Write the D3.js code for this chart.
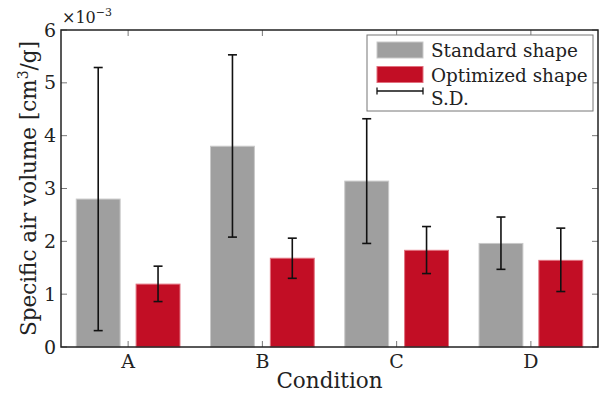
<!DOCTYPE html>
<html>
<head>
<meta charset="utf-8">
<script src="https://cdn.jsdelivr.net/npm/d3@7"></script>
<style>
  body { margin: 0; background: #fff; }
  text { font-family: "DejaVu Serif", serif; fill: #222; }
</style>
</head>
<body>
<div id="chart"></div>
<script>
// data (values in 1e-3 cm^3/g)
const categories = ["A", "B", "C", "D"];
const seriesNames = ["Standard shape", "Optimized shape"];
const standardMean = [2.80, 3.80, 3.14, 1.96];
const standardLow = [0.31, 2.08, 1.96, 1.47];
const standardHigh = [5.29, 5.53, 4.32, 2.46];
const optimizedMean = [1.19, 1.68, 1.83, 1.64];
const optimizedLow = [0.86, 1.30, 1.39, 1.05];
const optimizedHigh = [1.53, 2.06, 2.28, 2.25];
const yTicks = [0, 1, 2, 3, 4, 5, 6];

const width = 599, height = 396;
const margin = { top: 30, right: 1, bottom: 49, left: 61 };
const colors = ["#9f9f9f", "#c20e25"];
const edges = ["#c9c9c9", "#e2707e"];

const svg = d3.select("#chart")
  .append("svg")
  .attr("width", width)
  .attr("height", height);

// scales
let xScale = d3.scaleBand()
  .domain(categories)
  .range([margin.left, width - margin.right])
  .paddingInner(0.22)
  .paddingOuter(0.11);

let xSub = d3.scaleBand()
  .domain(seriesNames)
  .range([0, xScale.bandwidth()])
  .paddingInner(0.25);

let yScale = d3.scaleLinear()
  .domain([0, 6])
  .range([height - margin.bottom, margin.top]);

const rows = [];
categories.forEach((c, i) => {
  rows.push({ cat: c, s: 0, mean: standardMean[i], lo: standardLow[i], hi: standardHigh[i] });
  rows.push({ cat: c, s: 1, mean: optimizedMean[i], lo: optimizedLow[i], hi: optimizedHigh[i] });
});

// bars
svg.append("g")
  .selectAll("rect")
  .data(rows)
  .enter()
  .append("rect")
  .attr("x", d => xScale(d.cat) + xSub(seriesNames[d.s]) + 0.5)
  .attr("y", d => yScale(d.mean))
  .attr("width", xSub.bandwidth() - 1)
  .attr("height", d => yScale(0) - yScale(d.mean))
  .style("fill", d => colors[d.s])
  .style("stroke", d => edges[d.s])
  .style("stroke-width", 1);

// error bars
let cx = d => xScale(d.cat) + xSub(seriesNames[d.s]) + xSub.bandwidth() / 2;
let err = svg.append("g")
  .style("stroke", "#111")
  .style("stroke-width", 1.6);

err.selectAll(".stem")
  .data(rows)
  .enter()
  .append("line")
  .attr("x1", cx).attr("x2", cx)
  .attr("y1", d => yScale(d.lo))
  .attr("y2", d => yScale(d.hi));

["lo", "hi"].forEach(k => {
  err.selectAll(".cap-" + k)
    .data(rows)
    .enter()
    .append("line")
    .attr("x1", d => cx(d) - 4.5)
    .attr("x2", d => cx(d) + 4.5)
    .attr("y1", d => yScale(d[k]))
    .attr("y2", d => yScale(d[k]));
});

// ticks (inside, mirrored)
let x0 = margin.left, x1 = width - margin.right;
let y0 = yScale(0), y1 = yScale(6);
let tickG = svg.append("g")
  .style("stroke", "#555")
  .style("stroke-width", 0.8);

yTicks.forEach(t => {
  tickG.append("line").attr("x1", x0).attr("x2", x0 + 6).attr("y1", yScale(t)).attr("y2", yScale(t));
  tickG.append("line").attr("x1", x1 - 6).attr("x2", x1).attr("y1", yScale(t)).attr("y2", yScale(t));
});
categories.forEach(c => {
  let x = xScale(c) + xScale.bandwidth() / 2;
  tickG.append("line").attr("x1", x).attr("x2", x).attr("y1", y0).attr("y2", y0 - 6);
  tickG.append("line").attr("x1", x).attr("x2", x).attr("y1", y1).attr("y2", y1 + 6);
});

// frame
svg.append("rect")
  .attr("x", x0)
  .attr("y", y1)
  .attr("width", x1 - x0)
  .attr("height", y0 - y1)
  .style("fill", "none")
  .style("stroke", "#222")
  .style("stroke-width", 1.5);

// tick labels
svg.append("g")
  .selectAll("text")
  .data(yTicks)
  .enter()
  .append("text")
  .attr("x", x0 - 5)
  .attr("y", d => yScale(d) + 6.5)
  .attr("text-anchor", "end")
  .style("font-size", "19px")
  .text(d => d);

svg.append("g")
  .selectAll("text")
  .data(categories)
  .enter()
  .append("text")
  .attr("x", d => xScale(d) + xScale.bandwidth() / 2)
  .attr("y", y0 + 21)
  .attr("text-anchor", "middle")
  .style("font-size", "19px")
  .text(d => d);

// exponent
let expo = svg.append("text")
  .attr("x", 62)
  .attr("y", 23)
  .style("font-size", "16px");
expo.append("tspan").text("×10");
expo.append("tspan").attr("dy", -7).style("font-size", "11px").text("−3");

// axis labels
svg.append("text")
  .attr("x", (x0 + x1) / 2)
  .attr("y", 388)
  .attr("text-anchor", "middle")
  .style("font-size", "21.5px")
  .text("Condition");

let yl = svg.append("text")
  .attr("transform", "translate(36," + ((y0 + y1) / 2) + ") rotate(-90)")
  .attr("text-anchor", "middle")
  .style("font-size", "21.5px");
yl.append("tspan").text("Specific air volume [cm");
yl.append("tspan").attr("dy", -8).style("font-size", "14px").text("3");
yl.append("tspan").attr("dy", 8).text("/g]");

// legend
let lg = svg.append("g");
lg.append("rect")
  .attr("x", 367).attr("y", 35)
  .attr("width", 226).attr("height", 76)
  .style("fill", "#fff")
  .style("stroke", "#777")
  .style("stroke-width", 1);

seriesNames.forEach((n, i) => {
  lg.append("rect")
    .attr("x", 377).attr("y", 42 + i * 24.5)
    .attr("width", 46).attr("height", 16)
    .style("fill", colors[i])
    .style("stroke", edges[i]);
  lg.append("text")
    .attr("x", 431).attr("y", 57 + i * 24.5)
    .style("font-size", "18.4px")
    .text(n);
});
let sd = lg.append("g").style("stroke", "#111").style("stroke-width", 1.3);
sd.append("line").attr("x1", 377).attr("x2", 423).attr("y1", 91).attr("y2", 91);
sd.append("line").attr("x1", 377).attr("x2", 377).attr("y1", 87.5).attr("y2", 94.5);
sd.append("line").attr("x1", 423).attr("x2", 423).attr("y1", 87.5).attr("y2", 94.5);
lg.append("text")
  .attr("x", 431).attr("y", 105)
  .style("font-size", "18.4px")
  .text("S.D.");
</script>
</body>
</html>
